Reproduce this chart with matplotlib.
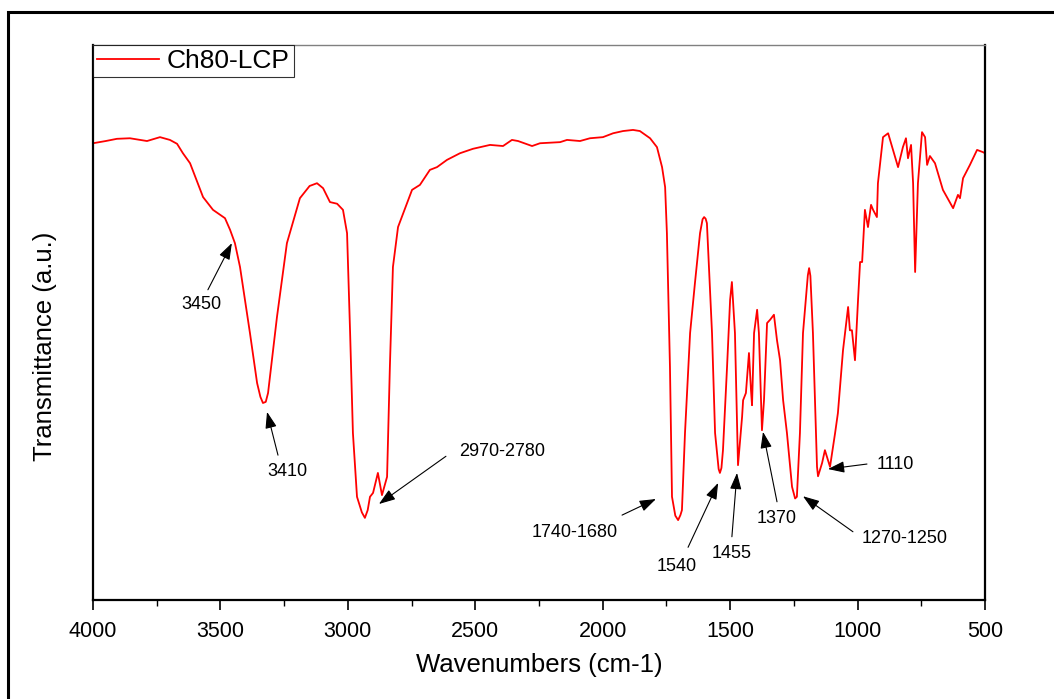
import matplotlib
matplotlib.use("Agg")
import matplotlib.pyplot as plt
from matplotlib.patches import Rectangle

plt.rcParams["font.family"] = ["Liberation Sans", "DejaVu Sans"]

# FTIR spectrum of Ch80-LCP
wavenumber = [
    4000, 3950, 3906, 3855, 3788, 3737, 3698, 3670, 3647, 3619, 3568,
    3529, 3482, 3462, 3443, 3423, 3384, 3356, 3343, 3333, 3322, 3313, 3278,
    3239, 3188, 3150, 3121, 3097, 3070, 3042, 3019, 3003, 2991, 2980,
    2964, 2945, 2933, 2922, 2913, 2901, 2882, 2866, 2846, 2835, 2823, 2803,
    2748, 2717, 2678, 2650, 2611, 2560, 2509, 2442, 2391, 2356,
    2332, 2277, 2246, 2167, 2140, 2089, 2050, 1999, 1959, 1920,
    1881, 1854, 1814, 1787, 1767, 1755, 1748, 1736, 1728, 1715, 1704,
    1695, 1689, 1677, 1657, 1638, 1618, 1608, 1602, 1596, 1591, 1571, 1559, 1545, 1540,
    1534, 1528, 1512, 1500, 1493, 1481, 1469, 1453, 1449, 1438, 1426,
    1418, 1414, 1406, 1394, 1387, 1375, 1367, 1355, 1343, 1328,
    1316, 1304, 1292, 1277, 1257, 1245, 1238, 1226, 1214, 1195, 1190, 1185, 1175,
    1159, 1155, 1139, 1128, 1108, 1088, 1077, 1057, 1037, 1030,
    1022, 1010, 998, 990, 982, 971, 959, 947, 939, 924,
    920, 900, 880, 861, 841, 822, 810, 802, 790, 782,
    774, 763, 747, 735, 727, 716, 696, 665, 625, 606,
    598, 586, 559, 531, 508, 500,
]
transmittance = [
    82.3, 82.7, 83.1, 83.2, 82.7, 83.4, 82.9, 82.2, 80.5, 78.7, 72.6,
    70.3, 68.8, 66.7, 64.3, 60.0, 48.1, 39.1, 36.6, 35.5, 35.7, 37.3, 51.0,
    64.3, 72.4, 74.6, 75.1, 74.2, 71.7, 71.4, 70.3, 66.1, 48.1, 30.1,
    18.6, 15.8, 14.8, 16.2, 18.6, 19.3, 22.9, 18.9, 22.2, 42.0, 60.0, 67.2,
    73.9, 74.8, 77.5, 78.0, 79.3, 80.5, 81.3, 82.0, 81.8, 82.9,
    82.7, 81.8, 82.3, 82.5, 82.9, 82.7, 83.2, 83.4, 84.1, 84.5,
    84.7, 84.5, 83.2, 81.6, 78.0, 74.4, 66.1, 42.0, 18.6, 15.2, 14.4,
    15.3, 16.2, 30.1, 48.1, 57.1, 66.1, 68.6, 69.0, 68.7, 67.9, 48.1, 30.1, 23.6, 22.9,
    23.8, 27.0, 42.0, 54.1, 57.3, 48.1, 24.3, 33.0, 36.0, 37.3, 44.5,
    37.8, 35.1, 48.1, 52.3, 48.1, 30.6, 36.0, 49.9, 50.5, 51.4,
    46.8, 43.2, 36.0, 30.1, 20.4, 18.3, 18.6, 30.1, 48.1, 58.5, 59.8, 58.4, 48.1,
    24.0, 22.3, 24.7, 27.0, 24.0, 30.1, 33.7, 45.0, 52.8, 48.6,
    48.6, 43.2, 54.1, 60.9, 60.9, 70.3, 67.2, 71.2, 70.3, 69.0,
    75.1, 83.4, 84.1, 81.1, 78.0, 81.6, 83.2, 79.6, 82.0, 75.1,
    59.1, 75.1, 84.3, 83.4, 78.4, 80.0, 78.7, 73.9, 70.6, 73.0,
    72.4, 76.0, 78.4, 81.1, 80.7, 80.5,
]

# peak labels: text, text position, arrow tail, arrow head
peak_labels = ["3450", "3410", "2970-2780", "1740-1680", "1540",
               "1455", "1370", "1270-1250", "1110"]
label_xy = [(3576, 53.2), (3239, 23.1), (2395, 26.8), (2109, 12.1), (1708, 6.1),
            (1493, 8.3), (1316, 14.6), (814, 11.0), (853, 24.5)]
arrow_from = [(3549, 55.9), (3274, 26.1), (2615, 25.9), (1924, 15.3), (1665, 9.5),
              (1493, 11.4), (1316, 17.7), (1018, 12.3), (963, 24.5)]
arrow_to = [(3455, 64.3), (3317, 33.9), (2878, 17.3), (1791, 18.2), (1547, 21.1),
            (1473, 22.9), (1371, 30.3), (1214, 18.7), (1116, 23.6)]

fig = plt.figure(figsize=(10.54, 6.99), dpi=100)
ax = fig.add_axes([0.0882, 0.1416, 0.8463, 0.794])

ax.plot(wavenumber, transmittance, color="red", lw=1.3, label="Ch80-LCP")

for lab, txy, a0, a1 in zip(peak_labels, label_xy, arrow_from, arrow_to):
    ax.annotate("", xy=a1, xytext=a0,
                arrowprops=dict(arrowstyle="-|>,head_length=1.0,head_width=0.35",
                                color="black", lw=0.8, mutation_scale=10,
                                shrinkA=0, shrinkB=0))
    ax.text(txy[0], txy[1], lab, fontsize=13, ha="center", va="center")

ax.set_xlim(4000, 500)
ax.set_ylim(0, 100)
ax.set_xticks([4000, 3500, 3000, 2500, 2000, 1500, 1000, 500])
ax.set_xticks([3750, 3250, 2750, 2250, 1750, 1250, 750], minor=True)
ax.set_yticks([])
ax.tick_params(axis="x", which="major", direction="out", length=7, width=1.2,
               labelsize=15.5, pad=8)
ax.tick_params(axis="x", which="minor", direction="out", length=4, width=1.0)

for side in ["left", "bottom", "right"]:
    ax.spines[side].set_linewidth(1.6)
ax.spines["top"].set_linewidth(1.0)
ax.spines["top"].set_color("#808080")

ax.set_xlabel("Wavenumbers (cm-1)", fontsize=18.5, labelpad=8)
ax.set_ylabel("Transmittance (a.u.)", fontsize=18.5)
ax.yaxis.set_label_coords(-0.040, 0.458)

leg = ax.legend(loc="upper left", fontsize=19, frameon=True, fancybox=False,
                borderaxespad=0, borderpad=0.15, handlelength=2.35,
                handletextpad=0.3)
leg.get_frame().set_edgecolor("black")
leg.get_frame().set_linewidth(0.8)

# outer frame around the whole graphic
fig.patches.append(Rectangle((8 / 1054, -0.1), 1.2, 1 - 12 / 699 + 0.1,
                             transform=fig.transFigure, fill=False,
                             edgecolor="black", lw=2.2, clip_on=False))

fig.savefig("out.png", dpi=100)
